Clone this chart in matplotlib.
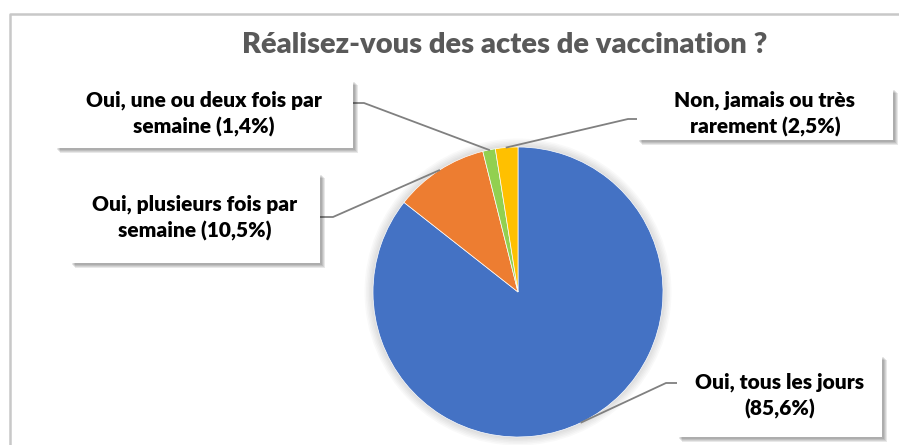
import numpy as np
import matplotlib.pyplot as plt
from matplotlib.patches import Rectangle, Circle

plt.rcParams['font.family'] = ['Lato', 'DejaVu Sans']

# data
categories = ['Oui, tous les jours', 'Oui, plusieurs fois par semaine',
              'Oui, une ou deux fois par semaine', 'Non, jamais ou très rarement']
values = [85.6, 10.5, 1.4, 2.5]
label_texts = ['Oui, tous les jours\n(85,6%)',
               'Oui, plusieurs fois par\nsemaine (10,5%)',
               'Oui, une ou deux fois par\nsemaine (1,4%)',
               'Non, jamais ou très\nrarement (2,5%)']
colors = ['#4472C4', '#ED7D31', '#92D050', '#FFC000']

W, H = 899, 445
fig = plt.figure(figsize=(W / 100, H / 100), dpi=100)
ax = fig.add_axes([0, 0, 1, 1])

def Y(y):
    # top-left pixel coords -> axes coords
    return H - y

# chart frame
ax.plot([10, 10, W], [Y(H), Y(14), Y(14)], color='#c8c8c8', lw=1.8, solid_capstyle='butt')

# pie
cx, cy, r = 518, Y(292), 145
for k in range(6):
    ax.add_patch(Circle((cx, cy), r + 1 + k * 1.5, color='#000000', alpha=0.025, lw=0, zorder=1))
wedges, _ = ax.pie(values, colors=colors, startangle=90, counterclock=False,
                   center=(cx, cy), radius=r, frame=True,
                   wedgeprops=dict(linewidth=0.5, edgecolor='white'))
for w in wedges:
    w.set_zorder(2)
ax.set_xlim(0, W)
ax.set_ylim(0, H)
ax.set_aspect('equal')
ax.axis('off')

# label boxes (x0, y0, x1, y1) in pixels, and leader stub (box side point, bend point)
boxes = [(677, 355, 882, 437), (70, 173, 320, 263), (55, 80, 353, 148), (637, 88, 893, 140)]
stubs = [((677, 383), (666, 383)), ((320, 217), (333, 217)),
         ((353, 103), (364, 103)), ((637, 119), (628, 119))]

for w, txt, (x0, y0, x1, y1), (p0, p1) in zip(wedges, label_texts, boxes, stubs):
    ang = np.deg2rad((w.theta1 + w.theta2) / 2)
    ex, ey = cx + r * np.cos(ang), cy + r * np.sin(ang)
    ax.plot([p0[0], p1[0], ex], [Y(p0[1]), Y(p1[1]), ey], color='#808080', lw=1.3, zorder=3)
    for k in range(4):
        ax.add_patch(Rectangle((x0 + 2 + k, Y(y1) - 2 - k), x1 - x0, y1 - y0,
                               color='#000000', alpha=0.09, lw=0, zorder=4))
    ax.add_patch(Rectangle((x0, Y(y1)), x1 - x0, y1 - y0, facecolor='white',
                           edgecolor='none', lw=0, zorder=5))
    ax.text((x0 + x1) / 2, Y((y0 + y1) / 2), txt, ha='center', va='center',
            multialignment='center', fontsize=15, fontweight='heavy', color='black',
            linespacing=1.4, zorder=6)

ax.text(505, Y(45), 'Réalisez-vous des actes de vaccination ?', ha='center', va='center',
        fontsize=21, fontweight='heavy', color='#595959')

fig.savefig('out.png', dpi=100)
